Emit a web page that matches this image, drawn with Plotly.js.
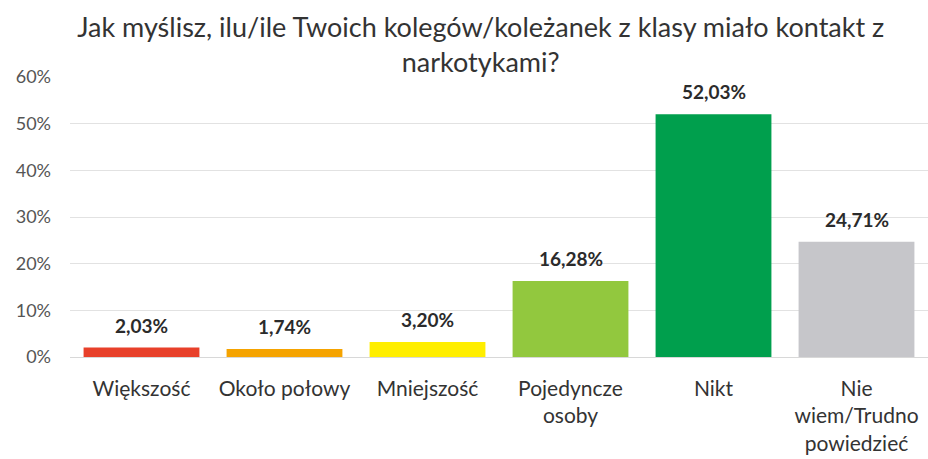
<!DOCTYPE html>
<html><head><meta charset="utf-8">
<script src="https://cdn.plot.ly/plotly-3.0.1.min.js"></script>
<style>html,body{margin:0;padding:0;background:#fff}#chart{width:928px;height:459px}</style>
</head><body><div id="chart"></div>
<script>
var categories = ["Większość", "Około połowy", "Mniejszość", "Pojedyncze<br>osoby", "Nikt", "Nie<br>wiem/Trudno<br>powiedzieć"];
var values = [2.03, 1.74, 3.20, 16.28, 52.03, 24.71];
var valueLabels = ["2,03%", "1,74%", "3,20%", "16,28%", "52,03%", "24,71%"];
var barColors = ["#e8402a", "#f5a300", "#ffee00", "#92c83e", "#009f4d", "#c6c6ca"];
var tickVals = [0, 10, 20, 30, 40, 50, 60];
var tickText = ["0%", "10%", "20%", "30%", "40%", "50%", "60%"];

var FONT = "Lato, 'Open Sans', sans-serif";

var trace = {
  type: "bar",
  x: categories,
  y: values,
  marker: {color: barColors},
  cliponaxis: false,
  hoverinfo: "none"
};

var annotations = categories.map(function (c, i) {
  return {
    x: c, y: values[i], xref: "x", yref: "y",
    text: valueLabels[i], showarrow: false,
    yanchor: "bottom", yshift: 9,
    font: {family: FONT, size: 19, color: "#2b2b2b", weight: "bold"}
  };
});

var layout = {
  width: 928, height: 459,
  margin: {l: 70, r: 0, t: 77, b: 102},
  paper_bgcolor: "#fff", plot_bgcolor: "#fff",
  bargap: 0.19,
  showlegend: false,
  annotations: annotations,
  title: {
    text: "Jak myślisz, ilu/ile Twoich kolegów/koleżanek z klasy miało kontakt z<br>narkotykami?",
    font: {family: FONT, size: 27, color: "#333"},
    x: 0.518, xanchor: "center", y: 0.92, yanchor: "top"
  },
  xaxis: {
    tickfont: {family: FONT, size: 21, color: "#333"},
    showline: false, showgrid: false, zeroline: false, ticks: "",
    ticklabelstandoff: 17, fixedrange: true
  },
  yaxis: {
    range: [0, 60],
    tickvals: tickVals, ticktext: tickText,
    tickfont: {family: FONT, size: 18, color: "#555"},
    showgrid: true, gridcolor: "#e2e2e2", gridwidth: 1,
    zeroline: true, zerolinecolor: "#d8d8d8",
    showline: false, ticks: "", ticklabelstandoff: 18, fixedrange: true
  }
};

Plotly.newPlot("chart", [trace], layout, {displayModeBar: false, staticPlot: true});
</script>
</body></html>
